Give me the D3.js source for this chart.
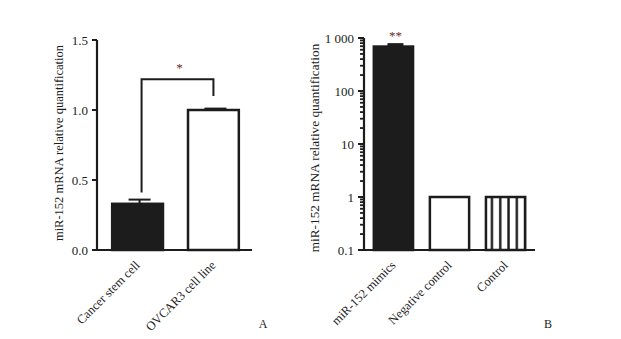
<!DOCTYPE html>
<html>
<head>
<meta charset="utf-8">
<script src="https://cdn.jsdelivr.net/npm/d3@7"></script>
<style>
  body { margin: 0; background: #fff; }
  svg { display: block; font-family: 'Liberation Serif', 'Times New Roman', serif; }
</style>
</head>
<body>
<svg id="chart" width="621" height="339"></svg>
<script>
// panel A
const categoriesA = ['Cancer stem cell', 'OVCAR3 cell line']
const valuesA = [0.33, 1.0]
const errorsA = [0.03, 0.01]
const ticksA = [0, 0.5, 1.0, 1.5]

// panel B
const categoriesB = ['miR-152 mimics', 'Negative control', 'Control']
const valuesB = [690, 1, 1]
const errorsB = [110, 0, 0]
const ticksB = [0.1, 1, 10, 100, 1000]
const tickLabelsB = ['0.1', '1', '10', '100', '1 000']

const yTitle = 'miR-152 mRNA relative quantification'
const ink = '#1c1c1c'
const starColor = '#6b2a2a'

const svg = d3.select('#chart')
const defs = svg.append('defs')

function axisLines(g, x0, x1, yTop, yBottom) {
  g.append('line').attr('x1', x0).attr('x2', x0).attr('y1', yTop).attr('y2', yBottom + 1)
    .attr('stroke', ink).attr('stroke-width', 2.2)
  g.append('line').attr('x1', x0 - 1).attr('x2', x1).attr('y1', yBottom).attr('y2', yBottom)
    .attr('stroke', ink).attr('stroke-width', 2.2)
}

function xLabels(g, cats, x, yBottom) {
  g.selectAll('.xlab')
    .data(cats)
    .enter()
    .append('text')
    .attr('class', 'xlab')
    .attr('font-size', '12.5px')
    .attr('fill', ink)
    .attr('text-anchor', 'end')
    .attr('transform', (d) => `translate(${x(d) + x.bandwidth() / 2 + 3}, ${yBottom + 16}) rotate(-45)`)
    .text((d) => d)
}

// ---------- panel A ----------
const gA = svg.append('g')
const yA = d3.scaleLinear().domain([0, 1.5]).range([250, 40])
const xA = d3.scaleBand().domain(categoriesA).range([97, 254]).paddingInner(0.33).paddingOuter(0.2)

gA.selectAll('.tick')
  .data(ticksA)
  .enter()
  .append('line')
  .attr('x1', 92)
  .attr('x2', 97)
  .attr('y1', (d) => yA(d))
  .attr('y2', (d) => yA(d))
  .attr('stroke', ink)
  .attr('stroke-width', 2)

gA.selectAll('.tlab')
  .data(ticksA)
  .enter()
  .append('text')
  .attr('x', 88)
  .attr('y', (d) => yA(d))
  .attr('dy', '0.35em')
  .attr('text-anchor', 'end')
  .attr('font-size', '13px')
  .attr('fill', ink)
  .text((d) => d3.format('.1f')(d))

gA.selectAll('.err')
  .data(categoriesA)
  .enter()
  .append('g')
  .each(function (d, i) {
    const cx = xA(d) + xA.bandwidth() / 2 + 2
    const g = d3.select(this)
    g.append('line').attr('x1', cx).attr('x2', cx).attr('y1', yA(valuesA[i])).attr('y2', yA(valuesA[i] + errorsA[i]))
      .attr('stroke', ink).attr('stroke-width', 2)
    g.append('line').attr('x1', cx - 11).attr('x2', cx + 11)
      .attr('y1', yA(valuesA[i] + errorsA[i])).attr('y2', yA(valuesA[i] + errorsA[i]))
      .attr('stroke', ink).attr('stroke-width', 2)
  })

gA.selectAll('.bar')
  .data(categoriesA)
  .enter()
  .append('rect')
  .attr('x', (d) => xA(d))
  .attr('width', xA.bandwidth())
  .attr('y', (d, i) => yA(valuesA[i]))
  .attr('height', (d, i) => yA(0) - yA(valuesA[i]))
  .attr('fill', (d, i) => (i === 0 ? ink : '#fff'))
  .attr('stroke', ink)
  .attr('stroke-width', 2.5)

axisLines(gA, 97, 252, yA(1.5), yA(0))

// significance bracket
const bL = xA(categoriesA[0]) + xA.bandwidth() / 2 + 4
const bR = xA(categoriesA[1]) + xA.bandwidth() / 2
gA.append('path')
  .attr('d', `M${bL},${yA(0.41)}V${yA(1.22)}H${bR}V${yA(1.1)}`)
  .attr('fill', 'none')
  .attr('stroke', ink)
  .attr('stroke-width', 2)
gA.append('text')
  .attr('x', (bL + bR) / 2 + 2)
  .attr('y', yA(1.22) - 7)
  .attr('text-anchor', 'middle')
  .attr('font-size', '13px')
  .attr('fill', starColor)
  .text('*')

gA.append('text')
  .attr('transform', 'translate(63, 143) rotate(-90)')
  .attr('text-anchor', 'middle')
  .attr('font-size', '12.5px')
  .attr('fill', ink)
  .text(yTitle)

xLabels(gA, categoriesA, xA, 250)

gA.append('text').attr('x', 263).attr('y', 328).attr('text-anchor', 'middle')
  .attr('font-size', '12px').attr('fill', ink).text('A')

// ---------- panel B ----------
const gB = svg.append('g')
const yB = d3.scaleLog().domain([0.1, 1000]).range([250, 38])
const xB = d3.scaleBand().domain(categoriesB).range([364, 535]).paddingInner(0.3).paddingOuter(0.175)

const minorB = yB.ticks().filter((v) => !ticksB.includes(v))
gB.selectAll('.minor')
  .data(minorB)
  .enter()
  .append('line')
  .attr('x1', 360)
  .attr('x2', 364)
  .attr('y1', (d) => yB(d))
  .attr('y2', (d) => yB(d))
  .attr('stroke', ink)
  .attr('stroke-width', 1.8)

gB.selectAll('.major')
  .data(ticksB)
  .enter()
  .append('line')
  .attr('x1', 358)
  .attr('x2', 364)
  .attr('y1', (d) => yB(d))
  .attr('y2', (d) => yB(d))
  .attr('stroke', ink)
  .attr('stroke-width', 2)

gB.selectAll('.tlab')
  .data(ticksB)
  .enter()
  .append('text')
  .attr('x', 354)
  .attr('y', (d) => yB(d))
  .attr('dy', '0.35em')
  .attr('text-anchor', 'end')
  .attr('font-size', '13px')
  .attr('fill', ink)
  .text((d, i) => tickLabelsB[i])

// vertical stripes for the "Control" bar
const stripeStep = 8.3
defs.append('pattern')
  .attr('id', 'stripes')
  .attr('patternUnits', 'userSpaceOnUse')
  .attr('x', xB(categoriesB[2]) + 6 - stripeStep / 2)
  .attr('y', 0)
  .attr('width', stripeStep)
  .attr('height', 10)
  .call((p) => p.append('rect').attr('width', stripeStep).attr('height', 10).attr('fill', '#fff'))
  .append('line')
  .attr('x1', stripeStep / 2)
  .attr('x2', stripeStep / 2)
  .attr('y1', 0)
  .attr('y2', 10)
  .attr('stroke', ink)
  .attr('stroke-width', 2.4)

gB.selectAll('.err')
  .data(categoriesB.filter((d, i) => errorsB[i] > 0))
  .enter()
  .append('g')
  .each(function (d) {
    const i = categoriesB.indexOf(d)
    const cx = xB(d) + xB.bandwidth() / 2 + 2
    const top = yB(valuesB[i] + errorsB[i])
    const g = d3.select(this)
    g.append('rect').attr('x', cx - 8).attr('width', 16).attr('y', top).attr('height', yB(valuesB[i]) - top)
      .attr('fill', ink)
  })

gB.selectAll('.bar')
  .data(categoriesB)
  .enter()
  .append('rect')
  .attr('x', (d) => xB(d))
  .attr('width', xB.bandwidth())
  .attr('y', (d, i) => yB(valuesB[i]))
  .attr('height', (d, i) => yB(0.1) - yB(valuesB[i]))
  .attr('fill', (d, i) => (i === 0 ? ink : i === 2 ? 'url(#stripes)' : '#fff'))
  .attr('stroke', ink)
  .attr('stroke-width', 2.5)

axisLines(gB, 364, 535, yB(1000), yB(0.1))

gB.append('text')
  .attr('x', xB(categoriesB[0]) + xB.bandwidth() / 2 + 2)
  .attr('y', yB(valuesB[0] + errorsB[0]) - 3)
  .attr('text-anchor', 'middle')
  .attr('font-size', '13px')
  .attr('fill', starColor)
  .text('**')

gB.append('text')
  .attr('transform', 'translate(319, 148) rotate(-90)')
  .attr('text-anchor', 'middle')
  .attr('font-size', '13.3px')
  .attr('fill', ink)
  .text(yTitle)

xLabels(gB, categoriesB, xB, 250)

gB.append('text').attr('x', 548).attr('y', 328).attr('text-anchor', 'middle')
  .attr('font-size', '12px').attr('fill', ink).text('B')
</script>
</body>
</html>
